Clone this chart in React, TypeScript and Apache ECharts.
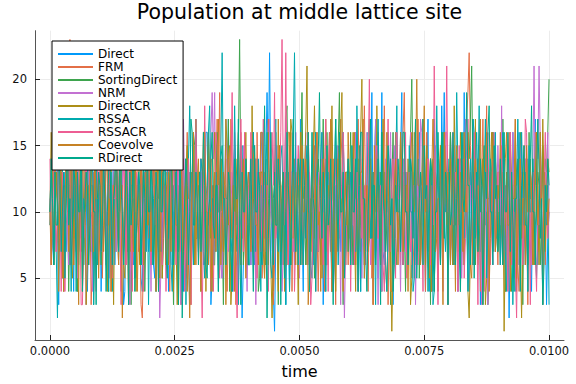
import React, { useEffect, useRef } from "react";
import * as echarts from "echarts";

const T_STEP = 0.000025; // sampling step of the saved trajectories (401 samples, 0 .. 0.01)

const seriesNames = ["Direct", "FRM", "SortingDirect", "NRM", "DirectCR", "RSSA", "RSSACR", "Coevolve", "RDirect"];
const seriesColors = ["#009AFA", "#E36F47", "#3EA44E", "#C371D2", "#AC8E18", "#00AAAE", "#ED5E93", "#C68225", "#00A98D"];

const xTicks = [0, 0.0025, 0.005, 0.0075, 0.01];
const yTicks = [5, 10, 15, 20];

const direct = [
  10,14, 8,6, 12,17, 9,3, 11,13, 5,10, 13,7, 10,16, 6,12, 9,4, 12,8, 16,11, 8,14, 10,6, 11,13, 4,9, 9,15, 15,7, 10,12, 7,13,
  11,4, 9,14, 15,8, 8,13, 12,6, 10,16, 6,11, 11,7, 9,17, 13,3, 4,12, 10,8, 12,14, 8,6, 16,10, 9,13, 11,5, 4,12, 10,16, 12,7,
  9,14, 13,6, 5,11, 11,16, 10,7, 8,13, 17,9, 12,4, 9,14, 6,10, 10,16, 11,7, 15,12, 8,4, 12,14, 9,7, 3,11, 13,6, 10,17, 11,8,
  8,13, 12,6, 10,16, 16,9, 9,3, 5,12, 11,7, 13,10, 10,14, 5,11, 12,6, 9,17, 11,7, 8,13, 15,9, 10,4, 12,8, 2,6, 9,14, 11,7,
  13,6, 10,16, 6,11, 12,8, 9,14, 16,7, 11,14, 19,13, 22,12, 7,4, 1,8, 10,14, 12,6, 9,13, 11,3, 15,10, 4,12, 10,16, 6,9, 12,7,
  10,17, 9,4, 13,8, 11,14, 4,10, 12,6, 10,16, 15,9, 8,13, 11,3, 9,14, 12,7, 16,11, 10,4, 6,12, 11,15, 13,7, 9,13, 10,6, 12,14,
  8,13, 11,6, 10,16, 15,9, 9,4, 12,14, 5,11, 10,7, 14,12, 19,8, 11,17, 9,5, 12,10, 19,7, 6,13, 10,16, 13,8, 11,3, 9,14, 12,7,
  10,14, 19,6, 9,13, 12,7, 11,16, 5,10, 13,6, 10,14, 16,8, 9,12, 11,4, 12,17, 4,9, 10,13, 17,7, 11,14, 9,6, 18,12, 19,10, 12,3,
  10,16, 13,7, 9,12, 11,4, 6,14, 12,8, 19,11, 10,6, 4,13, 11,17, 16,8, 9,12, 12,3, 10,14, 8,11, 15,6, 11,13, 9,16, 15,7, 10,12,
  12,6, 9,14, 11,7, 13,10, 2,8, 10,16, 12,4, 5,11, 16,9, 11,13, 9,6, 10,14, 13,8, 4,12, 12,17, 10,6, 11,13, 9,3, 13,10, 3,8,
  10,
];
const frm = [
  9,13, 11,6, 10,16, 13,8, 8,12, 12,4, 10,14, 14,16, 23,11, 9,6, 11,14, 4,9, 12,7, 10,17, 9,13, 15,8, 11,3, 6,12, 10,14, 12,7,
  10,16, 5,9, 13,7, 11,14, 9,4, 12,10, 8,13, 10,6, 16,11, 11,7, 9,14, 12,6, 10,17, 6,11, 11,8, 15,12, 9,3, 2,7, 10,14, 12,8,
  11,6, 9,14, 13,8, 10,4, 5,12, 15,9, 12,6, 10,14, 4,10, 11,16, 13,7, 9,12, 10,3, 12,14, 8,11, 16,7, 11,13, 10,6, 9,17, 12,8,
  10,14, 13,7, 6,11, 11,16, 9,4, 12,8, 10,13, 17,12, 19,10, 9,6, 11,14, 4,9, 10,17, 13,7, 12,3, 9,13, 11,16, 8,10, 15,6, 10,12,
  12,7, 9,14, 11,4, 16,10, 10,13, 5,8, 13,6, 11,17, 9,12, 12,3, 6,11, 10,14, 15,8, 11,6, 8,13, 12,9, 10,16, 4,11, 14,7, 11,13,
  9,16, 12,6, 10,13, 6,9, 13,7, 11,14, 15,10, 9,4, 10,12, 12,16, 4,8, 11,13, 16,7, 10,14, 9,3, 12,11, 8,17, 14,7, 10,12, 11,6,
  13,8, 9,14, 11,6, 10,17, 12,7, 8,13, 18,11, 10,4, 11,14, 5,9, 13,7, 12,16, 10,6, 7,12, 18,10, 11,3, 9,14, 12,8, 10,16, 15,9,
  10,6, 12,16, 19,11, 9,7, 11,14, 13,8, 5,12, 10,17, 12,6, 11,13, 9,4, 16,10, 10,14, 4,8, 12,13, 11,6, 13,15, 9,7, 10,14, 12,3,
  11,16, 9,6, 13,10, 10,14, 12,7, 6,11, 11,16, 17,19, 22,15, 10,6, 13,9, 9,14, 11,4, 12,17, 10,13, 18,8, 5,12, 11,7, 13,15, 10,6,
  12,8, 9,14, 11,4, 10,13, 16,7, 8,12, 12,17, 10,6, 4,11, 13,8, 11,14, 10,3, 12,9, 6,13, 11,16, 15,7, 9,12, 10,14, 12,6, 11,9,
  9,
];
const sortingDirect = [
  10,14, 12,6, 9,13, 11,7, 13,10, 6,12, 10,16, 12,4, 9,11, 16,8, 11,13, 4,9, 10,14, 13,6, 9,12, 11,17, 12,7, 10,3, 8,13, 15,10,
  11,6, 9,14, 12,8, 10,4, 16,11, 5,13, 11,7, 13,10, 10,16, 9,6, 12,14, 7,11, 11,3, 10,13, 15,8, 9,12, 15,6, 11,14, 4,9, 10,13,
  12,7, 10,17, 9,4, 13,11, 11,14, 5,8, 12,6, 10,13, 16,10, 9,3, 11,16, 13,7, 10,12, 4,9, 12,14, 9,6, 11,13, 10,16, 15,8, 8,12,
  11,4, 9,13, 12,7, 10,16, 13,8, 11,6, 6,12, 16,10, 10,14, 9,3, 12,11, 11,17, 4,8, 10,13, 13,7, 9,15, 23,12, 11,6, 10,14, 12,8,
  9,14, 15,7, 10,12, 11,4, 5,10, 12,16, 10,6, 14,11, 9,13, 11,7, 13,16, 10,3, 12,9, 6,13, 11,17, 18,10, 9,6, 10,14, 13,8, 11,12,
  10,14, 19,11, 12,6, 9,16, 11,7, 13,10, 5,12, 10,14, 12,6, 11,17, 9,4, 16,10, 10,13, 4,8, 12,14, 11,15, 19,10, 9,3, 10,13, 13,7,
  11,16, 9,6, 12,14, 10,4, 15,9, 8,13, 11,7, 10,14, 17,11, 9,6, 12,17, 11,8, 10,13, 4,10, 13,7, 9,14, 11,3, 12,16, 10,8, 6,12,
  12,7, 10,14, 9,4, 13,11, 11,16, 20,12, 10,6, 12,13, 5,9, 11,17, 13,7, 9,12, 10,3, 12,14, 4,10, 11,6, 10,13, 16,9, 9,15, 12,7,
  10,16, 11,6, 13,9, 9,14, 12,4, 10,13, 6,11, 11,16, 14,17, 21,12, 10,6, 12,14, 9,7, 11,13, 15,9, 10,3, 5,12, 12,16, 11,7, 9,13,
  13,8, 10,17, 11,4, 9,12, 12,7, 4,10, 10,14, 13,6, 11,16, 9,3, 12,13, 10,7, 16,11, 11,14, 6,9, 10,13, 12,6, 9,15, 11,14, 13,16,
  20,
];
const nrm = [
  11,6, 9,14, 12,7, 10,16, 8,12, 13,4, 11,14, 9,6, 16,10, 10,13, 12,7, 5,11, 11,17, 13,8, 10,3, 9,14, 12,9, 4,7, 11,16, 10,6,
  13,8, 9,16, 11,6, 12,13, 5,9, 10,14, 16,7, 11,12, 9,4, 12,17, 10,6, 15,11, 3,8, 11,14, 9,5, 12,13, 10,16, 6,10, 13,7, 11,14,
  10,4, 12,14, 9,7, 11,9, 2,6, 13,11, 10,16, 12,6, 6,13, 11,8, 16,10, 9,14, 10,3, 12,17, 11,7, 5,10, 13,6, 10,14, 9,12, 12,6,
  11,14, 10,7, 15,11, 9,13, 12,16, 19,14, 19,8, 10,12, 11,6, 5,9, 12,17, 13,7, 9,13, 10,4, 16,11, 11,14, 9,6, 12,15, 10,8, 4,10,
  12,6, 11,14, 9,3, 13,10, 10,16, 6,11, 12,7, 11,13, 17,10, 9,4, 10,14, 15,8, 11,12, 4,7, 12,17, 10,6, 9,13, 13,7, 11,16, 10,5,
  5,11, 12,7, 11,16, 9,6, 13,10, 10,14, 12,4, 9,13, 11,8, 16,11, 10,6, 6,12, 12,17, 11,7, 9,14, 15,10, 10,3, 12,9, 2,7, 11,14,
  10,6, 13,9, 9,16, 11,4, 12,14, 5,10, 10,7, 16,12, 11,6, 9,13, 12,17, 10,3, 13,9, 4,11, 11,14, 10,7, 12,16, 9,6, 15,11, 11,13,
  9,4, 12,14, 10,7, 13,11, 11,16, 6,9, 12,3, 10,13, 9,17, 16,10, 11,6, 10,14, 12,8, 4,10, 13,15, 9,6, 11,13, 10,4, 12,16, 16,10,
  11,7, 9,13, 15,10, 10,4, 12,14, 5,9, 11,17, 14,8, 9,12, 10,6, 12,16, 11,7, 13,10, 3,8, 10,14, 12,3, 9,13, 11,6, 16,12, 10,15,
  12,9, 18,10, 10,6, 9,14, 13,7, 11,16, 5,10, 12,6, 10,13, 16,8, 9,14, 11,4, 12,9, 6,13, 21,12, 16,14, 21,15, 11,7, 9,13, 12,16,
  10,
];
const directCR = [
  10,16, 12,6, 8,13, 11,7, 13,10, 9,4, 10,14, 16,11, 11,6, 5,9, 12,17, 10,7, 9,13, 15,10, 11,3, 6,12, 12,14, 10,6, 15,9, 9,13,
  11,7, 13,16, 10,6, 4,11, 12,14, 9,3, 11,13, 16,8, 10,12, 12,6, 5,10, 11,17, 13,7, 9,14, 10,4, 12,11, 6,13, 11,8, 10,14, 15,9,
  9,14, 12,6, 11,16, 10,7, 16,11, 5,9, 12,13, 10,6, 13,17, 9,4, 11,8, 3,10, 12,14, 10,6, 9,13, 15,11, 11,3, 12,16, 6,9, 10,13,
  13,7, 9,14, 11,4, 12,16, 10,8, 4,11, 16,13, 11,6, 9,14, 12,7, 10,17, 15,9, 11,3, 5,12, 10,14, 12,6, 9,13, 11,8, 13,16, 10,6,
  12,8, 18,11, 10,14, 9,6, 11,13, 13,7, 5,10, 12,16, 10,6, 2,7, 11,14, 9,4, 15,11, 10,13, 12,6, 6,10, 11,17, 16,8, 10,13, 9,3,
  12,16, 10,6, 13,16, 21,11, 9,6, 11,14, 18,12, 10,7, 12,14, 5,9, 11,17, 13,6, 9,12, 18,11, 10,4, 12,14, 11,16, 19,10, 9,6, 10,13,
  13,7, 11,16, 9,4, 12,14, 10,16, 20,11, 6,10, 11,14, 15,8, 10,13, 9,6, 18,12, 12,7, 10,17, 11,6, 4,9, 13,7, 1,6, 10,14, 12,8,
  9,16, 11,6, 13,10, 10,14, 12,3, 5,9, 16,12, 11,7, 9,13, 12,17, 10,6, 15,11, 11,14, 4,8, 10,13, 12,4, 9,15, 11,7, 16,12, 10,6,
  12,14, 9,6, 18,12, 11,7, 10,16, 13,8, 6,11, 12,4, 2,7, 10,13, 11,17, 9,6, 15,10, 12,14, 10,3, 5,11, 11,13, 16,9, 9,14, 12,7,
  10,6, 11,13, 1,8, 13,11, 9,16, 12,6, 10,14, 4,9, 11,7, 2,8, 15,12, 10,4, 12,14, 9,6, 11,13, 16,10, 6,12, 10,17, 12,7, 11,14,
  13,
];
const rssa = [
  9,13, 11,6, 10,7, 2,9, 12,16, 13,7, 8,12, 10,14, 11,4, 16,10, 9,14, 12,6, 10,13, 5,11, 11,17, 15,8, 9,12, 12,3, 10,14, 6,11,
  12,7, 10,14, 15,9, 9,4, 11,13, 4,10, 12,16, 10,6, 16,11, 11,7, 9,14, 13,6, 10,12, 12,17, 5,9, 11,13, 10,6, 9,14, 15,10, 12,3,
  10,13, 6,11, 12,4, 11,16, 9,7, 13,10, 10,14, 16,8, 11,6, 4,12, 12,17, 10,7, 8,13, 15,10, 11,3, 10,14, 18,12, 9,6, 12,16, 11,7,
  10,14, 13,7, 5,11, 12,16, 18,10, 11,6, 8,13, 10,4, 13,15, 22,11, 9,6, 11,14, 12,8, 4,10, 18,12, 9,3, 11,14, 15,8, 10,13, 12,6,
  6,12, 11,16, 13,7, 10,14, 9,4, 12,10, 11,13, 16,8, 10,6, 5,11, 12,17, 9,7, 11,14, 15,9, 10,3, 12,13, 4,8, 11,16, 22,12, 10,6,
  12,14, 9,6, 11,13, 15,10, 10,6, 5,11, 12,16, 11,7, 9,14, 16,10, 10,4, 12,13, 11,8, 4,10, 13,17, 10,6, 9,12, 12,16, 11,7, 10,13,
  13,6, 9,14, 11,7, 18,12, 10,4, 12,14, 6,10, 11,16, 15,8, 10,13, 9,3, 12,17, 11,7, 16,11, 10,6, 4,9, 12,14, 11,6, 9,13, 18,10,
  10,16, 12,6, 9,13, 11,7, 15,10, 10,4, 5,12, 12,14, 11,6, 9,17, 16,10, 10,7, 12,14, 11,3, 4,9, 18,12, 10,6, 13,16, 9,7, 11,14,
  12,6, 10,14, 6,11, 19,13, 11,7, 13,16, 8,10, 10,4, 12,14, 11,6, 9,13, 16,12, 18,10, 10,6, 12,17, 5,9, 11,14, 13,7, 10,16, 8,12,
  11,6, 12,16, 10,7, 4,11, 13,14, 11,3, 8,12, 12,17, 10,6, 16,11, 9,13, 11,4, 15,10, 10,14, 12,7, 5,9, 11,16, 10,6, 13,11, 9,12,
  3,
];
const rssacr = [
  14,6, 10,13, 12,7, 9,16, 11,4, 13,10, 4,9, 10,14, 12,6, 11,17, 9,7, 16,11, 10,3, 3,8, 12,14, 11,6, 15,10, 9,13, 10,4, 12,16,
  11,7, 9,14, 13,6, 10,17, 12,8, 5,11, 11,13, 16,10, 10,3, 9,14, 12,6, 11,16, 15,9, 4,10, 10,13, 12,7, 9,15, 11,4, 13,10, 10,14,
  12,6, 10,16, 9,11, 13,7, 11,14, 6,10, 12,4, 10,13, 16,9, 9,14, 11,6, 12,17, 10,7, 15,11, 4,9, 11,14, 9,3, 12,13, 10,16, 11,7,
  13,7, 2,9, 18,11, 10,6, 12,14, 9,4, 11,16, 15,8, 5,10, 10,13, 12,6, 11,14, 9,12, 19,10, 10,6, 2,8, 12,17, 11,7, 16,10, 9,13,
  10,16, 12,6, 11,14, 5,9, 13,7, 10,17, 8,11, 12,4, 11,13, 16,12, 19,8, 10,14, 12,16, 23,13, 9,22, 11,6, 15,9, 10,13, 4,8, 12,15,
  11,6, 9,14, 13,8, 10,16, 12,3, 5,10, 11,14, 16,7, 10,12, 9,6, 12,17, 11,4, 15,10, 4,9, 10,14, 12,7, 9,13, 11,16, 13,6, 10,12,
  12,4, 10,14, 6,11, 13,7, 11,16, 8,12, 12,6, 10,13, 20,10, 9,3, 11,14, 15,8, 10,12, 12,6, 4,10, 11,17, 9,7, 12,14, 10,5, 16,11,
  11,14, 9,6, 12,16, 5,10, 13,7, 8,12, 11,17, 10,6, 12,13, 9,4, 16,11, 11,14, 10,6, 12,9, 21,12, 9,3, 11,14, 13,7, 10,12, 21,10,
  10,6, 12,16, 9,13, 11,4, 15,10, 10,14, 5,8, 12,17, 11,6, 9,13, 16,11, 10,3, 12,14, 11,7, 4,10, 13,16, 10,6, 9,14, 12,7, 11,13,
  10,14, 15,7, 9,12, 11,4, 12,16, 6,10, 10,6, 2,9, 12,14, 11,6, 9,17, 16,10, 10,3, 12,13, 11,7, 4,10, 9,14, 10,6, 12,16, 11,8,
  10,
];
const coevolve = [
  10,6, 13,16, 9,12, 11,4, 12,14, 5,9, 10,13, 16,7, 11,17, 9,6, 12,14, 10,3, 15,11, 4,9, 11,13, 10,6, 12,16, 9,7, 14,11, 11,5,
  9,14, 12,7, 10,13, 15,9, 11,4, 6,12, 12,16, 10,6, 16,10, 2,8, 11,14, 9,3, 12,17, 10,7, 15,11, 4,9, 11,14, 12,6, 10,13, 9,16,
  13,7, 11,14, 10,4, 12,16, 5,10, 16,12, 10,6, 8,13, 12,7, 11,17, 15,9, 9,3, 10,14, 12,6, 11,13, 4,7, 2,8, 13,16, 10,6, 12,14,
  9,4, 11,16, 16,10, 10,6, 12,14, 5,9, 13,7, 11,17, 10,6, 9,13, 12,3, 10,14, 15,8, 11,12, 4,9, 13,16, 10,6, 12,14, 9,5, 11,13,
  12,7, 10,14, 15,9, 9,6, 11,16, 16,10, 5,12, 10,6, 12,14, 11,4, 13,9, 9,17, 10,7, 12,13, 4,10, 11,16, 16,8, 10,13, 9,6, 12,14,
  11,6, 15,10, 10,14, 12,3, 6,11, 11,16, 8,13, 16,9, 10,4, 12,14, 13,7, 9,12, 11,17, 4,9, 12,6, 8,14, 15,10, 11,4, 10,13, 9,16,
  12,7, 10,14, 16,11, 11,6, 9,13, 13,17, 5,10, 12,7, 8,14, 11,3, 15,10, 10,13, 9,6, 12,16, 11,7, 16,12, 10,4, 4,9, 12,14, 11,6,
  10,16, 13,7, 9,12, 12,4, 11,14, 16,10, 10,13, 20,12, 12,6, 9,14, 18,10, 11,6, 5,12, 13,17, 12,7, 8,11, 11,14, 10,3, 16,12, 9,13,
  12,6, 11,14, 10,4, 15,11, 9,13, 12,7, 16,10, 10,16, 11,6, 5,9, 13,14, 12,7, 10,17, 9,3, 11,13, 16,10, 4,8, 12,16, 13,7, 9,12,
  11,16, 10,6, 12,14, 16,9, 9,4, 13,11, 11,17, 5,8, 12,14, 8,11, 11,6, 15,10, 10,13, 12,7, 6,12, 14,9, 11,16, 10,3, 13,12, 12,9,
  11,
];
const rDirect = [
  10,14, 11,6, 13,9, 9,16, 12,7, 10,13, 5,11, 16,9, 11,6, 9,14, 12,4, 13,10, 10,17, 4,9, 11,13, 12,6, 9,14, 15,10, 10,3, 11,13,
  12,7, 9,14, 11,4, 10,13, 15,9, 6,11, 12,16, 11,7, 16,12, 10,6, 9,14, 12,3, 13,9, 11,17, 4,8, 10,13, 12,6, 9,14, 11,7, 15,10,
  10,14, 12,6, 9,13, 11,4, 16,10, 10,14, 13,7, 5,9, 12,16, 11,6, 10,13, 9,3, 15,11, 2,7, 11,14, 12,6, 10,17, 16,9, 9,13, 11,6,
  13,7, 10,16, 12,6, 5,10, 11,14, 16,9, 8,12, 12,4, 10,14, 15,11, 11,6, 9,13, 12,7, 4,9, 14,11, 11,17, 8,3, 13,10, 10,14, 12,6,
  11,14, 9,4, 15,10, 10,13, 12,7, 6,11, 18,10, 2,8, 11,16, 10,6, 13,9, 9,14, 12,3, 11,13, 5,10, 16,12, 10,6, 12,17, 9,7, 11,14,
  13,6, 10,14, 12,8, 11,16, 4,9, 16,11, 10,4, 12,14, 19,11, 8,13, 11,6, 15,9, 10,14, 9,3, 12,17, 11,7, 16,10, 10,13, 5,9, 12,14,
  11,6, 15,10, 10,14, 9,4, 12,16, 16,11, 11,7, 4,10, 13,17, 8,12, 12,6, 11,14, 9,3, 16,12, 10,7, 12,15, 13,9, 11,4, 6,12, 10,14,
  12,7, 11,16, 16,10, 10,6, 9,14, 13,8, 12,17, 5,9, 11,13, 10,6, 15,11, 12,4, 9,14, 13,7, 4,10, 10,16, 12,6, 16,11, 8,13, 11,3,
  13,9, 10,16, 12,6, 11,14, 9,4, 16,11, 10,13, 19,12, 12,6, 11,17, 5,10, 13,7, 10,14, 12,3, 9,13, 11,16, 18,10, 10,6, 15,11, 12,7,
  9,14, 11,6, 16,10, 10,16, 12,7, 13,9, 4,11, 11,14, 10,4, 12,13, 15,9, 9,6, 11,14, 18,10, 10,6, 12,17, 13,8, 11,3, 6,12, 10,14,
  12,
];

const seriesValues = [direct, frm, sortingDirect, nrm, directCR, rssa, rssacr, coevolve, rDirect];

const FONT = "DejaVu Sans";

export default function App() {
  const ref = useRef<HTMLDivElement>(null);

  useEffect(() => {
    if (!ref.current) return;
    const chart = echarts.init(ref.current, undefined, { renderer: "svg" });
    const option = {
      animation: false,
      backgroundColor: "#ffffff",
      textStyle: { fontFamily: FONT },
      title: {
        text: "Population at middle lattice site",
        left: 299.5,
        top: 1,
        padding: 0,
        textAlign: "center",
        textStyle: { fontFamily: FONT, fontSize: 20.5, fontWeight: "normal", color: "#000" },
      },
      legend: {
        orient: "vertical",
        left: 52,
        top: 41,
        padding: [6.5, 6, 5.5, 6],
        itemGap: 0,
        itemWidth: 35,
        itemHeight: 2,
        icon: "rect",
        backgroundColor: "#ffffff",
        borderColor: "#000000",
        borderWidth: 1,
        borderRadius: 0,
        selectedMode: false,
        textStyle: { fontFamily: FONT, fontSize: 12, color: "#000", lineHeight: 13, padding: 0 },
        data: seriesNames,
      },
      grid: { left: 35, right: 12, top: 30.7, bottom: 44, containLabel: false },
      xAxis: {
        type: "value",
        min: -0.0003,
        max: 0.0103,
        name: "time",
        nameLocation: "middle",
        nameGap: 23,
        nameTextStyle: { fontFamily: FONT, fontSize: 16, color: "#000" },
        axisLine: { show: true, onZero: false, lineStyle: { color: "#555", width: 1 } },
        axisTick: { show: true, inside: true, length: 5, customValues: xTicks, lineStyle: { color: "#222" } },
        axisLabel: {
          customValues: xTicks,
          margin: 5,
          fontFamily: FONT,
          fontSize: 11.5,
          color: "#111",
          formatter: (v: number) => v.toFixed(4),
        },
        splitLine: { show: true, lineStyle: { color: "#ececec", width: 1 } },
      },
      yAxis: {
        type: "value",
        min: 0.34,
        max: 23.66,
        axisLine: { show: true, onZero: false, lineStyle: { color: "#555", width: 1 } },
        axisTick: { show: true, inside: true, length: 5, customValues: yTicks, lineStyle: { color: "#222" } },
        axisLabel: {
          customValues: yTicks,
          margin: 8,
          fontFamily: FONT,
          fontSize: 11.5,
          color: "#111",
        },
        splitLine: { show: true, lineStyle: { color: "#ececec", width: 1 } },
      },
      series: seriesNames.map((name, k) => ({
        name,
        type: "line",
        data: seriesValues[k].map((v, i) => [i * T_STEP, v]),
        showSymbol: false,
        symbol: "none",
        color: seriesColors[k],
        lineStyle: { width: 1, color: seriesColors[k] },
        silent: true,
        z: 2,
      })),
    };
    chart.setOption(option as any);
    return () => chart.dispose();
  }, []);

  return (
    <div
      ref={ref}
      style={{ position: "fixed", left: 0, top: 0, width: 576, height: 384, background: "#fff" }}
    />
  );
}
